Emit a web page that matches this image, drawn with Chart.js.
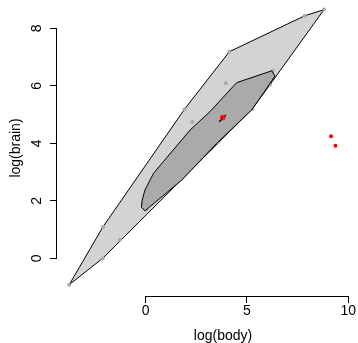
<!DOCTYPE html>
<html><head><meta charset="utf-8">
<script src="https://cdn.jsdelivr.net/npm/chart.js@4/dist/chart.umd.min.js"></script>
<style>html,body{margin:0;padding:0;background:#fff;overflow:hidden;width:358px;height:343px}canvas{display:block;position:absolute;left:0;top:0}</style>
</head><body>
<canvas id="c" width="389" height="343"></canvas>
<script>
// Animals data (log scale)
const animals = ["Mountain beaver","Cow","Grey wolf","Goat","Guinea pig","Dipliodocus","Asian elephant","Donkey","Horse","Potar monkey","Cat","Giraffe","Gorilla","Human","African elephant","Triceratops","Rhesus monkey","Kangaroo","Golden hamster","Mouse","Rabbit","Sheep","Jaguar","Chimpanzee","Rat","Brachiosaurus","Mole","Pig"];
const logBody = [0.300,6.142,3.593,3.320,0.039,9.367,7.843,5.232,6.256,2.303,1.194,6.271,5.333,4.127,8.803,9.148,1.917,3.555,-2.120,-3.772,0.916,4.016,4.605,3.954,-1.273,11.374,-2.104,5.257];
const logBrain = [2.092,6.047,4.783,4.745,1.705,3.912,8.434,6.038,6.485,4.745,3.243,6.522,6.006,7.185,8.650,4.248,5.187,4.025,0.000,-0.916,2.493,5.165,5.056,6.087,0.642,5.040,1.099,5.193];
const isOutlier = animals.map(a => a === "Dipliodocus" || a === "Triceratops" || a === "Brachiosaurus");

// loop (hull of non-outlying points)
const loopX = [-3.772,-2.104,1.917,4.127,7.843,8.803,6.142,5.257,-2.120,-3.772];
const loopY = [-0.916,1.099,5.187,7.185,8.434,8.650,6.047,5.193,0.000,-0.916];
// bag (inner 50%)
const bagX = [-0.04,-0.21,-0.18,-0.04,0.38,0.87,1.36,2.19,3.17,4.49,6.22,6.38,5.97,5.23,3.51,1.78,-0.04];
const bagY = [1.65,1.77,2.00,2.37,2.95,3.36,3.77,4.46,5.10,6.11,6.52,6.34,5.91,5.16,4.00,2.72,1.65];
// Tukey median region and center
const medRegionX = [3.63,3.96];
const medRegionY = [4.75,4.99];
const centerX = [3.80];
const centerY = [4.90];

const xTicks = [0,5,10];
const xTickLabels = ["0","5","10"];
const yTicks = [0,2,4,6,8];
const yTickLabels = ["0","2","4","6","8"];

const pts = (xs, ys) => xs.map((x, i) => ({x: x, y: ys[i]}));
const FONT = {family: "'Liberation Sans', Arial, Helvetica, sans-serif", size: 14};
const TITLEFONT = {family: "'Liberation Sans', Arial, Helvetica, sans-serif", size: 14, lineHeight: 1.0};
const noPad = s => { s.paddingLeft = 0; s.paddingRight = 0; s.paddingTop = 0; s.paddingBottom = 0; };

const axisLines = {
  id: 'axisLines',
  afterDraw(chart) {
    const c = chart.ctx, xs = chart.scales.x, ys = chart.scales.y;
    c.save();
    c.strokeStyle = '#000';
    c.lineWidth = 1;
    const yb = Math.floor(chart.chartArea.bottom) + 0.5;
    c.beginPath();
    c.moveTo(xs.getPixelForValue(xTicks[0]), yb);
    c.lineTo(xs.getPixelForValue(xTicks[xTicks.length - 1]), yb);
    const xl = Math.floor(chart.chartArea.left) - 0.5;
    c.moveTo(xl, ys.getPixelForValue(yTicks[0]));
    c.lineTo(xl, ys.getPixelForValue(yTicks[yTicks.length - 1]));
    c.stroke();
    c.restore();
  }
};

new Chart(document.getElementById('c'), {
  type: 'scatter',
  data: {
    datasets: [
      {label: 'loop', data: pts(loopX, loopY), showLine: true, fill: 'shape', tension: 0,
       backgroundColor: '#D3D3D3', borderColor: '#000', borderWidth: 1, pointRadius: 0, order: 5},
      {label: 'points', data: pts(logBody.filter((v, i) => !isOutlier[i]), logBrain.filter((v, i) => !isOutlier[i])),
       pointRadius: 2, backgroundColor: '#A9A9A9', borderWidth: 0, order: 4},
      {label: 'bag', data: pts(bagX, bagY), showLine: true, fill: 'shape', tension: 0,
       backgroundColor: '#AAAAAA', borderColor: '#000', borderWidth: 1, pointRadius: 0, order: 3},
      {label: 'median region', data: pts(medRegionX, medRegionY), showLine: true, tension: 0,
       borderColor: '#000', borderWidth: 1.3, pointRadius: 0, order: 2},
      {label: 'center', data: pts(centerX, centerY), pointStyle: 'star', pointRadius: 3,
       borderColor: '#FF0000', backgroundColor: '#FF0000', borderWidth: 1.2, order: 1},
      {label: 'outliers', data: pts(logBody.filter((v, i) => isOutlier[i]), logBrain.filter((v, i) => isOutlier[i])),
       pointRadius: 2, backgroundColor: '#FF0000', borderWidth: 0, order: 0}
    ]
  },
  options: {
    responsive: false, animation: false, devicePixelRatio: 1,
    layout: {padding: 0, autoPadding: false},
    plugins: {legend: {display: false}, tooltip: {enabled: false}},
    scales: {
      x: {
        type: 'linear', min: -4.378, max: 12.009,
        afterBuildTicks: s => { s.ticks = xTicks.map(v => ({value: v})); },
        afterFit: s => { s.height = 47; noPad(s); },
        grid: {drawOnChartArea: false, drawTicks: true, tickLength: 7, color: '#000', lineWidth: 1},
        border: {display: false},
        ticks: {color: '#000', font: FONT, padding: 0, maxRotation: 0, autoSkip: false,
                callback: (v, i) => xTickLabels[i]},
        title: {display: true, text: 'log(body)', color: '#000', font: TITLEFONT, padding: 0}
      },
      y: {
        type: 'linear', min: -1.311, max: 8.984,
        afterBuildTicks: s => { s.ticks = yTicks.map(v => ({value: v})); },
        afterFit: s => { s.width = 57; noPad(s); },
        grid: {drawOnChartArea: false, drawTicks: true, tickLength: 7, color: '#000', lineWidth: 1},
        border: {display: false},
        ticks: {color: '#000', font: FONT, padding: 9, minRotation: 90, maxRotation: 90, crossAlign: 'center', autoSkip: false,
                callback: (v, i) => yTickLabels[i]},
        title: {display: true, text: 'log(brain)', color: '#000', font: TITLEFONT, padding: {top: 9.5, bottom: 0}}
      }
    }
  },
  plugins: [axisLines]
});
</script>
</body></html>
